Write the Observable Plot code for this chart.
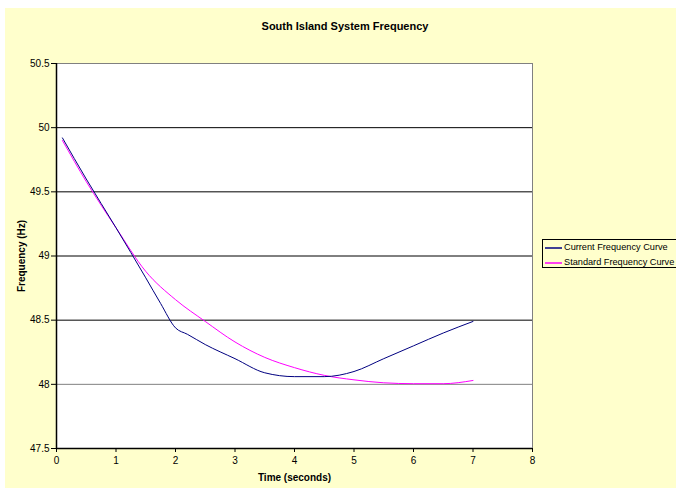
<!DOCTYPE html>
<html>
<head>
<meta charset="utf-8">
<script src="https://cdn.jsdelivr.net/npm/d3@7"></script>
<script src="https://cdn.jsdelivr.net/npm/@observablehq/plot@0.6"></script>
<style>
  html, body { margin: 0; padding: 0; background: #ffffff; overflow: hidden; width: 676px; height: 488px; }
  #bg { position: absolute; left: 5px; top: 8px; width: 671px; height: 480px; background: #FFFFCC; }
  #title { position: absolute; left: 0; width: 690px; top: 20px; text-align: center; font: bold 11px "Liberation Sans", Arial, sans-serif; color: #000; }
  #chart { position: absolute; left: 0; top: 0; }
  #legend { position: absolute; left: 542px; top: 239px; width: 200px; height: 27px; border: 1px solid #000; background: #FFFFCC; font: 9.2px "Liberation Sans", Arial, sans-serif; color: #000; }
  .item { position: absolute; left: 2px; height: 12px; line-height: 12px; white-space: nowrap; }
  .item svg { vertical-align: middle; margin-right: 2px; }
  g[aria-label$="axis label"] text { font-weight: bold; }
</style>
</head>
<body>
<div id="bg"></div>
<div id="title">South Island System Frequency</div>
<div id="chart"></div>
<div id="legend"></div>
<script>
// Data
const seriesNames = ["Current Frequency Curve", "Standard Frequency Curve"];
const seriesColors = ["#000080", "#FF00FF"];

const currentTime = [0.1, 0.5, 1.0, 1.5, 1.75, 2.0, 2.2, 2.5, 3.0, 3.5, 4.0, 4.5, 5.0, 5.5, 6.0, 6.5, 7.0];
const currentFreq = [49.92, 49.60, 49.22, 48.83, 48.63, 48.44, 48.39, 48.31, 48.20, 48.09, 48.06, 48.06, 48.10, 48.20, 48.30, 48.40, 48.49];

const standardTime = [0.1, 0.5, 1.0, 1.5, 2.0, 2.5, 3.0, 3.5, 4.0, 4.5, 5.0, 5.5, 6.0, 6.5, 7.0];
const standardFreq = [49.90, 49.58, 49.22, 48.88, 48.66, 48.49, 48.33, 48.21, 48.13, 48.07, 48.035, 48.012, 48.005, 48.005, 48.03];

const xTicks = [0, 1, 2, 3, 4, 5, 6, 7, 8];
const yTicks = [47.5, 48, 48.5, 49, 49.5, 50, 50.5];
const gridBlack = [48.5, 49, 49.5, 50];
const gridGrey = [48];

const current = currentTime.map((t, i) => ({t, f: currentFreq[i], s: seriesNames[0]}));
const standard = standardTime.map((t, i) => ({t, f: standardFreq[i], s: seriesNames[1]}));

const chart = Plot.plot({
  width: 676,
  height: 488,
  marginLeft: 56,
  marginRight: 144,
  marginTop: 63,
  marginBottom: 40,
  style: { background: "transparent", fontFamily: "'Liberation Sans', Arial, sans-serif", fontSize: "10px", color: "#000" },
  x: { domain: [0, 8] },
  y: { domain: [47.5, 50.5] },
  marks: [
    Plot.frame({ fill: "#ffffff", stroke: null }),
    Plot.ruleY(gridBlack, { stroke: "#000", strokeWidth: 1 }),
    Plot.ruleY(gridGrey, { stroke: "#808080", strokeWidth: 1 }),
    Plot.ruleY([50.5], { stroke: "#808080", strokeWidth: 1 }),
    Plot.ruleX([8], { stroke: "#808080", strokeWidth: 1 }),
    Plot.line(standard, { x: "t", y: "f", stroke: seriesColors[1], strokeWidth: 1, curve: "monotone-x" }),
    Plot.line(current, { x: "t", y: "f", stroke: seriesColors[0], strokeWidth: 1, curve: "monotone-x" }),
    Plot.ruleX([0], { stroke: "#000", strokeWidth: 1.5 }),
    Plot.ruleY([47.5], { stroke: "#000", strokeWidth: 1.5 }),
    Plot.axisY({ ticks: yTicks, tickFormat: d => String(d), tickSize: 5, tickPadding: 2, label: "Frequency (Hz)", labelAnchor: "center", labelOffset: 39, labelArrow: "none" }),
    Plot.axisX({ ticks: xTicks, tickFormat: d => String(d), tickSize: 4, tickPadding: 4, label: "Time (seconds)", labelAnchor: "center", labelOffset: 32, labelArrow: "none" })
  ]
});
document.getElementById("chart").appendChild(chart);

const legend = document.getElementById("legend");
seriesNames.forEach((name, i) => {
  const item = document.createElement("div");
  item.className = "item";
  item.style.top = (i === 0 ? 1 : 16) + "px";
  item.innerHTML = `<svg width="17" height="4"><line x1="0" x2="17" y1="2" y2="2" stroke="${seriesColors[i]}" stroke-width="1.5"/></svg>${name}`;
  legend.appendChild(item);
});
</script>
</body>
</html>
